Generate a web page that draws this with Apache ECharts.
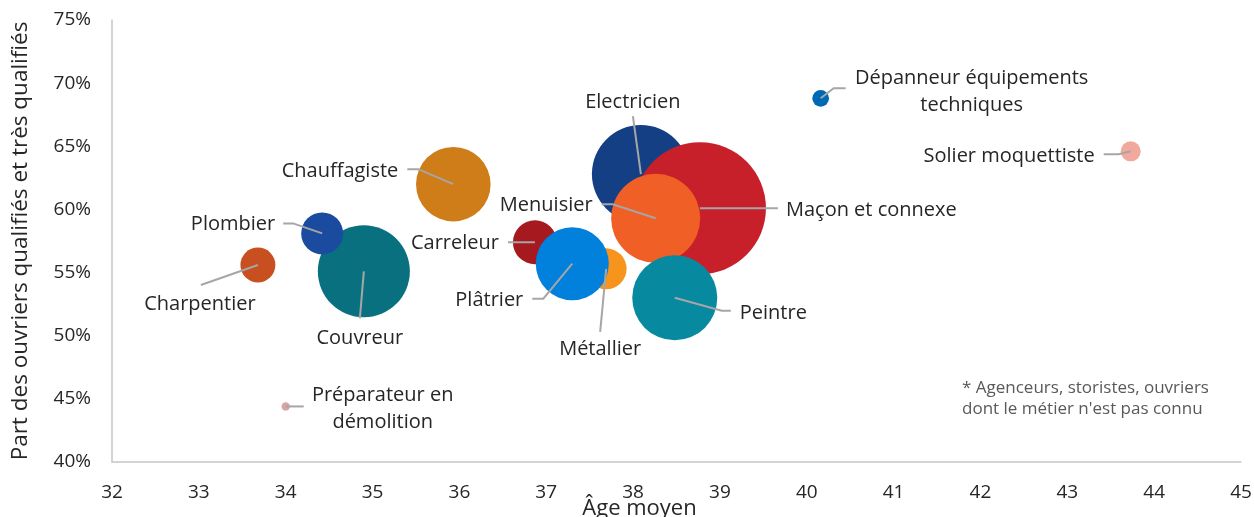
<!DOCTYPE html>
<html>
<head>
<meta charset="utf-8">
<script src="https://cdn.jsdelivr.net/npm/echarts@6/dist/echarts.min.js"></script>
<style>
  html, body { margin: 0; padding: 0; background: #ffffff; }
  #chart { width: 1254px; height: 517px; }
</style>
</head>
<body>
<div id="chart"></div>
<script>
// Métiers du bâtiment : âge moyen, part des ouvriers qualifiés et très qualifiés, effectif relatif (Maçon = 100)
// Ordre des tableaux = ordre de tracé (les derniers passent au-dessus).
const metiers = [
  'Couvreur', 'Plombier', 'Charpentier', 'Chauffagiste', 'Préparateur en démolition',
  'Carreleur', 'Métallier', 'Plâtrier', 'Electricien', 'Maçon et connexe',
  'Menuisier', 'Peintre', 'Dépanneur équipements techniques', 'Solier moquettiste'
];
const ageMoyen = [34.90, 34.42, 33.68, 35.93, 34.00, 36.87, 37.69, 37.30, 38.09, 38.77, 38.26, 38.48, 40.16, 43.73];
const partQualifies = [55.1, 58.1, 55.6, 62.0, 44.4, 57.4, 55.3, 55.7, 62.8, 60.1, 59.3, 53.0, 68.8, 64.6];
const effectif = [48.6, 10.1, 7.0, 31.9, 0.4, 11.1, 9.6, 30.6, 55.1, 100, 45.5, 41.5, 1.6, 2.3];

// Axes
const xMin = 32, xMax = 45, xPas = 1;
const yMin = 40, yMax = 75, yPas = 5;

// Couleurs des bulles
const couleurs = {
  'Couvreur': '#08707f',
  'Plombier': '#1a4b9e',
  'Charpentier': '#c84f1f',
  'Chauffagiste': '#cf7d18',
  'Préparateur en démolition': '#d9a4a6',
  'Carreleur': '#a5191f',
  'Métallier': '#f7941e',
  'Plâtrier': '#0180dc',
  'Electricien': '#143f84',
  'Maçon et connexe': '#c8202a',
  'Menuisier': '#f05f25',
  'Peintre': '#078aa0',
  'Dépanneur équipements techniques': '#0069b4',
  'Solier moquettiste': '#f2a99d'
};

// Étiquettes : trait de rappel (décalages en px depuis le centre de la bulle) et position du texte
const etiquettes = {
  'Charpentier': { ligne: [[-57, 20]], pos: [-58, 39], align: 'center', texte: 'Charpentier' },
  'Plombier': { ligne: [[-29, -10], [-39, -10]], pos: [-47, -9], align: 'right', texte: 'Plombier' },
  'Couvreur': { ligne: [[-4, 47]], pos: [-4, 67], align: 'center', texte: 'Couvreur' },
  'Chauffagiste': { ligne: [[-35, -15], [-46, -15]], pos: [-55, -13], align: 'right', texte: 'Chauffagiste' },
  'Préparateur en démolition': { ligne: [[18, 0]], pos: [97, 2], align: 'center', texte: 'Préparateur en\ndémolition' },
  'Carreleur': { ligne: [[-27, 0]], pos: [-36, 1], align: 'right', texte: 'Carreleur' },
  'Plâtrier': { ligne: [[-29, 35], [-40, 35]], pos: [-49, 37], align: 'right', texte: 'Plâtrier' },
  'Métallier': { ligne: [[-6, 63]], pos: [-6, 81], align: 'center', texte: 'Métallier' },
  'Electricien': { ligne: [[-8, -58]], pos: [-8, -72], align: 'center', texte: 'Electricien' },
  'Menuisier': { ligne: [[-43, -14], [-54, -14]], pos: [-63, -13], align: 'right', texte: 'Menuisier' },
  'Maçon et connexe': { ligne: [[78, 0]], pos: [86, 2], align: 'left', texte: 'Maçon et connexe' },
  'Peintre': { ligne: [[47, 13], [56, 13]], pos: [65, 15], align: 'left', texte: 'Peintre' },
  'Dépanneur équipements techniques': { ligne: [[13, -10], [25, -10]], pos: [151, -7], align: 'center', texte: 'Dépanneur équipements\ntechniques' },
  'Solier moquettiste': { ligne: [[-12, 3], [-27, 3]], pos: [-36, 5], align: 'right', texte: 'Solier moquettiste' }
};

const police = '"Open Sans", "Noto Sans", sans-serif';
const coefTaille = 13.2; // diamètre (px) = coef × √effectif

const bulles = metiers.map((m, i) => ({
  name: m,
  value: [ageMoyen[i], partQualifies[i], effectif[i]],
  itemStyle: { color: couleurs[m] }
}));

const reperes = metiers.map((m, i) => [ageMoyen[i], partQualifies[i], i]);

const chart = echarts.init(document.getElementById('chart'), null, { renderer: 'canvas' });

chart.setOption({
  animation: false,
  backgroundColor: '#ffffff',
  textStyle: { fontFamily: police },
  grid: { left: 112, right: 13, top: 20, bottom: 55, containLabel: false, outerBoundsMode: 'none' },
  xAxis: {
    type: 'value', min: xMin, max: xMax, interval: xPas,
    name: 'Âge moyen', nameLocation: 'middle', nameGap: 36, nameMoveOverlap: false,
    nameTextStyle: { fontSize: 22, color: '#262626', fontFamily: police, padding: [0, 74, 0, 0] },
    axisLine: { show: true, lineStyle: { color: '#c6c6c6', width: 1.5 } },
    axisTick: { show: false },
    splitLine: { show: false },
    axisLabel: { fontSize: 19, color: '#262626', margin: 21, fontFamily: police }
  },
  yAxis: {
    type: 'value', min: yMin, max: yMax, interval: yPas,
    name: 'Part des ouvriers qualifiés et très qualifiés', nameLocation: 'middle', nameGap: 80, nameMoveOverlap: false,
    nameTextStyle: { fontSize: 22.5, color: '#262626', fontFamily: police },
    axisLine: { show: true, lineStyle: { color: '#c6c6c6', width: 1.5 } },
    axisTick: { show: false },
    splitLine: { show: false },
    axisLabel: { fontSize: 19, color: '#262626', margin: 21, fontFamily: police, formatter: '{value}%' }
  },
  series: [
    {
      type: 'scatter',
      data: bulles,
      symbol: 'circle',
      symbolSize: v => coefTaille * Math.sqrt(v[2]),
      itemStyle: { opacity: 1 },
      emphasis: { disabled: true },
      silent: true,
      z: 2
    },
    {
      type: 'custom',
      data: reperes,
      silent: true,
      clip: false,
      z: 3,
      renderItem: (params, api) => {
        const i = api.value(2);
        const c = api.coord([api.value(0), api.value(1)]);
        const e = etiquettes[metiers[i]];
        const pts = [c].concat(e.ligne.map(p => [c[0] + p[0], c[1] + p[1]]));
        return {
          type: 'group',
          children: [
            { type: 'polyline', shape: { points: pts }, style: { stroke: '#a6a6a6', lineWidth: 2, fill: null } },
            {
              type: 'text',
              style: {
                text: e.texte, x: c[0] + e.pos[0], y: c[1] + e.pos[1],
                align: e.align, verticalAlign: 'middle',
                fontSize: 20, fontFamily: police, fill: '#262626', lineHeight: 27
              }
            }
          ]
        };
      }
    }
  ],
  graphic: [
    {
      type: 'text', left: 962, top: 378,
      style: {
        text: "* Agenceurs, storistes, ouvriers\ndont le métier n'est pas connu",
        fontSize: 17, fontFamily: police, fill: '#595959', lineHeight: 21
      }
    }
  ]
});
</script>
</body>
</html>
